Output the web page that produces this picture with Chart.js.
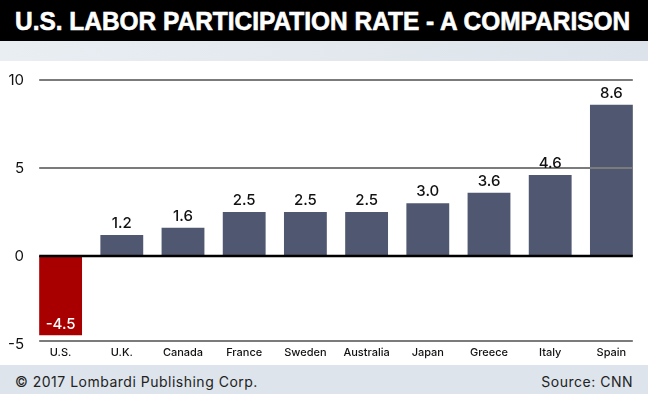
<!DOCTYPE html>
<html>
<head>
<meta charset="utf-8">
<script src="https://cdn.jsdelivr.net/npm/chart.js@4"></script>
<style>
  body { margin: 0; width: 648px; height: 394px; overflow: hidden; background: #fff; font-family: Inter, "Open Sans", sans-serif; }
  #title { height: 41px; background: #000; color: #fff; position: relative; overflow: hidden; }
  #title span { position: absolute; left: 15px; top: 7px; font: bold 25px "Liberation Sans", Arial, sans-serif; white-space: nowrap; transform-origin: 0 0; -webkit-text-stroke: 0.6px #fff; }
  #band { height: 20px; background: linear-gradient(to right, #e9eef3, #dce3ea); }
  #wrap { position: relative; height: 304px; width: 648px; }
  #footer { height: 29px; background: #dde4eb; position: relative; font-size: 14px; letter-spacing: 0.5px; color: #222; }
  #footer .l { position: absolute; left: 15px; top: 8px; }
  #footer .r { position: absolute; right: 15px; top: 8px; }
</style>
</head>
<body>
<div id="title"><span id="tt">U.S. LABOR PARTICIPATION RATE - A COMPARISON</span></div>
<div id="band"></div>
<div id="wrap"><canvas id="myChart"></canvas></div>
<div id="footer"><span class="l">© 2017 Lombardi Publishing Corp.</span><span class="r">Source: CNN</span></div>
<script>
var paises = ['U.S.', 'U.K.', 'Canada', 'France', 'Sweden', 'Australia', 'Japan', 'Greece', 'Italy', 'Spain'];
var valores = [-4.5, 1.2, 1.6, 2.5, 2.5, 2.5, 3.0, 3.6, 4.6, 8.6];
var etiquetas = ['-4.5', '1.2', '1.6', '2.5', '2.5', '2.5', '3.0', '3.6', '4.6', '8.6'];
var lineas = [10, 5, 0, -5];

// fit the title into its width
var tt = document.getElementById('tt');
tt.style.transform = 'scaleX(' + (615 / tt.offsetWidth) + ')';

var colores = valores.map(function (v) { return v < 0 ? '#a80000' : '#4f5870'; });

var pluginLineas = {
  id: 'lineas',
  afterDatasetsDraw: function (chart) {
    var ctx = chart.ctx;
    var meta = chart.getDatasetMeta(0);
    var primero = meta.data[0], ultimo = meta.data[meta.data.length - 1];
    var x0 = primero.x - primero.width / 2;
    var x1 = ultimo.x + ultimo.width / 2;
    var y = chart.scales.y;
    ctx.save();
    lineas.forEach(function (v) {
      var py = Math.round(y.getPixelForValue(v));
      if (v === -5) py = py - 3;
      ctx.beginPath();
      ctx.strokeStyle = v === 0 ? '#000' : '#7b7b7b';
      ctx.lineWidth = v === 0 ? 2.5 : 2;
      ctx.moveTo(x0, py);
      ctx.lineTo(x1, py);
      ctx.stroke();
    });
    // value labels
    ctx.font = '500 15px Inter, "Open Sans", sans-serif';
    ctx.textAlign = 'center';
    ctx.textBaseline = 'bottom';
    meta.data.forEach(function (bar, i) {
      if (valores[i] < 0) {
        ctx.fillStyle = '#fff';
        ctx.fillText(etiquetas[i], bar.x, bar.y - 3);
      } else {
        ctx.fillStyle = '#111';
        ctx.fillText(etiquetas[i], bar.x, bar.y - 4);
      }
    });
    ctx.restore();
  }
};

var ctx = document.getElementById('myChart').getContext('2d');
var myChart = new Chart(ctx, {
  type: 'bar',
  data: {
    labels: paises,
    datasets: [{
      data: valores,
      backgroundColor: colores,
      borderWidth: 0,
      barPercentage: 0.7,
      categoryPercentage: 1
    }]
  },
  options: {
    responsive: true,
    maintainAspectRatio: false,
    animation: false,
    layout: { padding: { top: 19, right: 6, left: 0, bottom: 0 } },
    plugins: { legend: { display: false }, tooltip: { enabled: false } },
    scales: {
      x: {
        grid: { display: false, drawTicks: false },
        border: { display: false },
        ticks: { color: '#111', padding: 2, font: { family: 'Inter', size: 11, weight: 500 }, maxRotation: 0, autoSkip: false },
        afterFit: function (s) { s.height = 21; }
      },
      y: {
        min: -5,
        max: 10,
        grid: { display: false, drawTicks: false },
        border: { display: false },
        ticks: { stepSize: 5, color: '#111', padding: 6, font: { family: 'Inter', size: 15 } },
        afterFit: function (s) { s.width = 30; }
      }
    }
  },
  plugins: [pluginLineas]
});
</script>
</body>
</html>
